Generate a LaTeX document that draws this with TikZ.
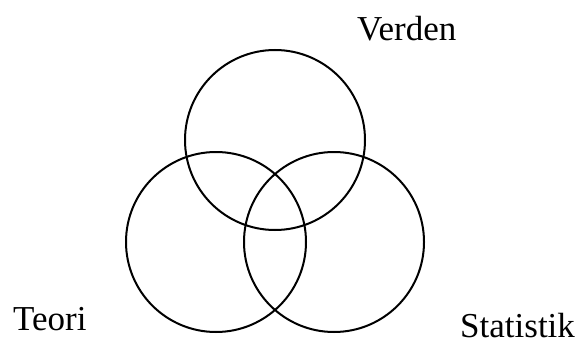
\documentclass[tikz,border=0pt]{standalone}
\usepackage{fontspec}
\setmainfont{Liberation Serif}
\usepackage{tikz}
\usetikzlibrary{positioning}

\begin{document}
\begin{tikzpicture}[x=1pt, y=-1pt, every node/.style={font=\fontsize{35}{40}\selectfont, inner sep=0pt}]
  \def\rad{90}
  \useasboundingbox (0,0) rectangle (583,345);
  % the three sets
  \foreach \cx/\cy in {275/140, 216/242, 334/242} {
    \draw[line width=2pt] (\cx,\cy) circle[radius=\rad];
  }
  \node[anchor=base west] (verden) at (357,41) {Verden};
  \node[anchor=base west] (teori) at (13,330) {Teori};
  \node[anchor=base west] (statistik) at (460,337) {Statistik};
\end{tikzpicture}
\end{document}
